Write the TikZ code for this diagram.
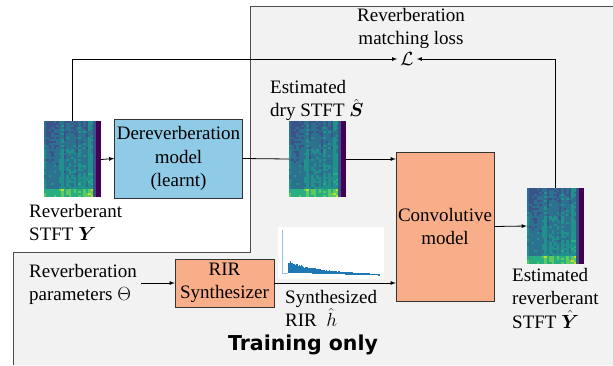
\RequirePackage{fix-cm}
\documentclass[tikz,border=0pt]{standalone}
\usepackage{amsmath}
\usepackage{fontspec}
\setmainfont{Liberation Serif}
\newfontfamily\trainfont{DejaVu Sans}
\usepackage{tikz}
\usetikzlibrary{arrows, calc, positioning}

\definecolor{derevblue}{RGB}{143,202,230}
\definecolor{salmon}{RGB}{249,174,138}
\definecolor{trainbg}{RGB}{242,242,242}
\definecolor{rirblue}{RGB}{31,119,180}
\definecolor{vir0}{RGB}{68,1,84}
\definecolor{vir1}{RGB}{59,82,139}
\definecolor{vir2}{RGB}{44,114,142}
\definecolor{vir3}{RGB}{33,145,140}
\definecolor{vir4}{RGB}{40,174,128}
\definecolor{vir5}{RGB}{94,201,98}
\definecolor{vir6}{RGB}{189,223,38}

% fill a spectrogram node with viridis cells
\newcommand{\spectrogram}[1]{%
  \pgfmathsetseed{11}
  \begin{scope}[shift={(#1.north west)}]
    \foreach \i in {0,...,22} {
      \pgfmathsetmacro\colv{1.3*rnd-0.75}
      \foreach \j in {0,...,37} {
        \pgfmathtruncatemacro\lvl{ifthenelse(\i>20,0,ifthenelse(\i==20,1,
          max(1,min(6,floor(1.75+\colv+1.1*rnd+\j*0.035+ifthenelse(\j>33,1.6,0))))))}
        \fill[vir\lvl] (\i*2.478,\j*2) rectangle ++(2.55,2.05);
      }
    }
  \end{scope}}

\begin{document}
\begin{tikzpicture}[x=1pt, y=-1pt, font=\fontsize{19}{23.5}\selectfont]

  \tikzstyle{block} = [rectangle, draw=black!80, thin, align=center, inner sep=0pt];
  \tikzstyle{learnt} = [block, fill=derevblue];
  \tikzstyle{fixed} = [block, fill=salmon];
  \tikzstyle{spec} = [rectangle, inner sep=0pt, minimum width=57pt, minimum height=76pt];
  \tikzstyle{rirbox} = [rectangle, fill=white, inner sep=0pt, minimum width=106pt, minimum height=52pt];
  \tikzstyle{textnote} = [align=left, inner sep=0pt];
  \tikzstyle{arrow} = [->, >=latex, line width=0.8pt];
  \tikzstyle{link} = [line width=0.8pt];

  \useasboundingbox (0,0) rectangle (613,365);

  % training only region
  \fill[trainbg] (250,6) -- (613,6) -- (613,365) -- (13,365) -- (13,252) -- (250,252) -- cycle;
  \draw[black!70, line width=1pt] (613,6) -- (250,6) -- (250,252) -- (13,252) -- (13,365);

  \node [spec]                                             (revspec)  at (72.5,159.5) {};
  \node [learnt, minimum width=128pt, minimum height=79pt] (derev)    at (178.5,158.5) {Dereverberation\\model\\(learnt)};
  \node [spec]                                             (dryspec)  at (317.5,159) {};
  \node [fixed, minimum width=98pt, minimum height=149pt]  (conv)     at (445,226.5) {Convolutive\\model};
  \node [spec]                                             (estspec)  at (555.5,226) {};
  \node [fixed, minimum width=99pt, minimum height=48pt]   (rirsynth) at (224.5,283) {RIR\\Synthesizer};
  \node [rirbox]                                           (rirplot)  at (331,253) {};
  \node [inner sep=3pt]                                    (loss)     at (407,59) {$\mathcal{L}$};

  \spectrogram{revspec}
  \spectrogram{dryspec}
  \spectrogram{estspec}

  % synthesized rir curve
  \begin{scope}[shift={(rirplot.north west)}]
    \pgfmathsetseed{3}
    \draw[rirblue!45, line width=1pt] (5,3) -- (5,47) -- (10,47);
    \foreach \t in {0,...,91} {
      \pgfmathsetmacro\bot{46+\t*0.03}
      \pgfmathsetmacro\top{\bot-1.4-11*exp(-\t/26)*(0.7+0.3*rnd)}
      \fill[rirblue] (10+\t,\bot) rectangle (11.1+\t,\top);
    }
  \end{scope}

  \node [textnote, align=center, anchor=north]     (losstext)   at (411,8)   {Reverberation\\matching loss};
  \node [textnote, anchor=north west]              (drytext)    at (270,80)  {Estimated\\dry STFT $\hat{\boldsymbol{S}}$};
  \node [textnote, anchor=north west]              (revtext)    at (29,204)  {Reverberant\\STFT $\boldsymbol{Y}$};
  \node [textnote, anchor=north west, inner xsep=4pt] (params)  at (25,264)  {Reverberation\\parameters $\Theta$};
  \node [textnote, anchor=north west]              (rirtext)    at (285,290) {Synthesized\\RIR \ $\hat{h}$};
  \node [textnote, anchor=north west]              (esttext)    at (512,268) {Estimated\\reverberant\\STFT $\hat{\boldsymbol{Y}}$};
  \node [font=\trainfont\fontsize{20.5}{24}\selectfont\bfseries] (training) at (303,345) {Training only};

  \draw[arrow] (revspec.east) -- (derev.west);
  \draw[link]  (derev.east) -- (dryspec.west);
  \draw[arrow] (dryspec.east) -- (dryspec.east -| conv.west);
  \draw[arrow] (params.east |- rirsynth.west) -- (rirsynth.west);
  \draw[arrow] (rirsynth.east) -- (rirsynth.east -| conv.west);
  \draw[arrow] (conv.east) -- (estspec.west);
  \draw[arrow] (revspec.north) |- (loss.west);
  \draw[arrow] (estspec.north) |- (loss.east);

\end{tikzpicture}
\end{document}
